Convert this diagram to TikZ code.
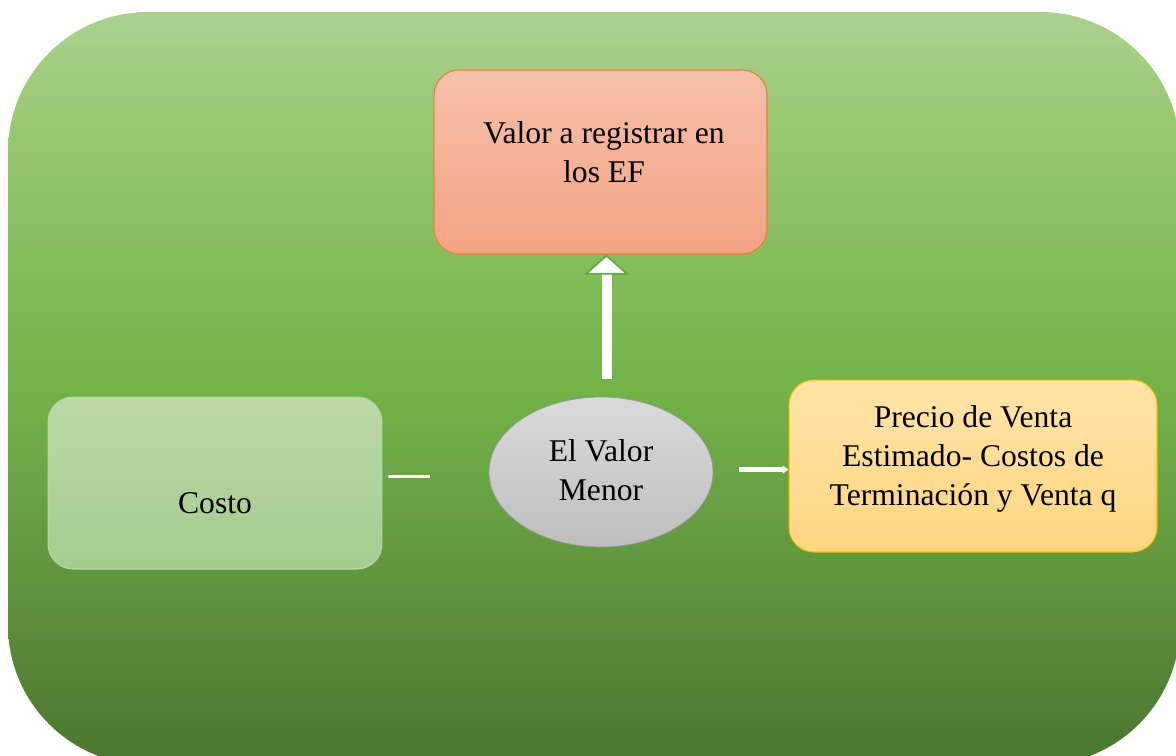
\documentclass[tikz,border=0pt]{standalone}
\usepackage{fontspec}
\setmainfont{Liberation Serif}
\usetikzlibrary{arrows.meta,shapes.geometric}

\definecolor{salmontop}{RGB}{245,192,170}
\definecolor{salmonbot}{RGB}{244,163,131}
\definecolor{salmonline}{RGB}{237,125,49}
\definecolor{goldtop}{RGB}{255,228,168}
\definecolor{goldbot}{RGB}{255,213,128}
\definecolor{goldline}{RGB}{255,192,0}
\definecolor{mintop}{RGB}{186,217,166}
\definecolor{minbot}{RGB}{165,204,142}
\definecolor{greytop}{RGB}{218,218,218}
\definecolor{greybot}{RGB}{190,190,190}
\definecolor{edgegreen}{RGB}{104,168,70}

\pgfdeclareverticalshading{bggreen}{100bp}{
  rgb(0bp)=(0.29,0.46,0.18);
  rgb(25bp)=(0.29,0.46,0.18);
  rgb(36bp)=(0.37,0.57,0.24);
  rgb(50bp)=(0.45,0.70,0.28);
  rgb(62.5bp)=(0.55,0.76,0.39);
  rgb(69bp)=(0.61,0.79,0.46);
  rgb(75bp)=(0.67,0.82,0.56);
  rgb(100bp)=(0.67,0.82,0.56)}

\tikzset{
  box/.style={rectangle, rounded corners=0.5cm, shade, line width=0.6pt},
  txt/.style={font=\fontsize{18}{22}\selectfont, align=center},
  thin arrow/.style={draw=white, -{Triangle[length=0.12cm, width=0.16cm]}}
}

\begin{document}
\begin{tikzpicture}[x=0.02cm, y=-0.02cm]
\useasboundingbox (0,0) rectangle (1176,755);

\begin{scope}
\clip (0,0) rectangle (1176,755);
\shade [shading=bggreen, rounded corners=2.8cm] (8,12) rectangle (1180,765);
\end{scope}

\node [box, draw=salmonline, top color=salmontop, bottom color=salmonbot,
minimum width=6.66cm, minimum height=3.68cm] (valor) at (600.5,162) {};
\node [txt] (valor text) at (604,152) {Valor a registrar en\\los EF};

\node [box, draw=minbot!80!white, top color=mintop, bottom color=minbot,
minimum width=6.68cm, minimum height=3.44cm] (costo) at (215,483) {};
\node [txt] (costo text) at (215,503) {Costo};

\node [ellipse, shade, draw=greybot!80!black, line width=0.4pt,
top color=greytop, bottom color=greybot,
minimum width=4.48cm, minimum height=3cm] (menor) at (601,472) {};
\node [txt] (menor text) at (601,470) {El Valor\\Menor};

\node [box, draw=goldline, top color=goldtop, bottom color=goldbot,
minimum width=7.36cm, minimum height=3.44cm] (precio) at (973,466) {};
\node [txt] (precio text) at (973,459) {Precio de Venta\\Estimado- Costos de\\Terminación y Venta q};

% connectors
\coordinate (up) at (606.5,379);
\coordinate (left) at (430,476.5);
\coordinate (right) at (739,469.5);

\draw [line width=0.2cm, white,
-{Triangle[length=0.4cm, width=0.9cm, fill=white, color=edgegreen, line width=1pt]}]
(up) -- (up |- valor.south);
\draw [draw=white, line width=2pt, -{Triangle[length=0.12cm, width=0.2cm, color=edgegreen]}]
(left) -- (left -| costo.east);
\draw [thin arrow, line width=3pt] (right) -- (right -| precio.west);
\end{tikzpicture}
\end{document}
